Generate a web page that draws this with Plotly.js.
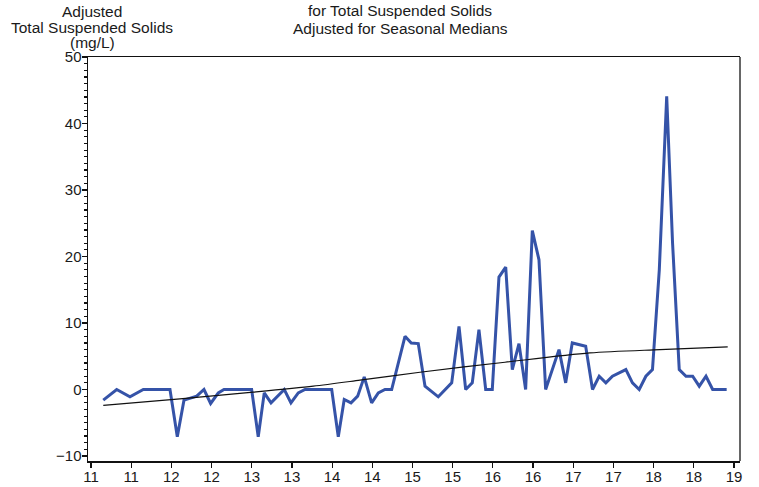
<!DOCTYPE html>
<html>
<head>
<meta charset="utf-8">
<script src="https://cdn.plot.ly/plotly-3.0.1.min.js"></script>
<style>html,body{margin:0;padding:0;background:#fff;}#chart{width:759px;height:487px;}</style>
</head>
<body>
<div id="chart"></div>
<script>
// Sample dates (decimal years, 2-digit) and seasonally adjusted TSS (mg/L)
const years = [11.153, 11.320, 11.485, 11.651, 11.983, 12.074, 12.157, 12.315, 12.406, 12.489,
  12.584, 12.655, 12.999, 13.081, 13.156, 13.240, 13.405, 13.488, 13.579, 13.663,
  13.995, 14.077, 14.151, 14.235, 14.318, 14.400, 14.492, 14.575, 14.658, 14.741,
  14.907, 14.985, 15.072, 15.156, 15.321, 15.488, 15.579, 15.662, 15.744, 15.827,
  15.911, 15.993, 16.076, 16.160, 16.242, 16.325, 16.408, 16.491, 16.574, 16.657,
  16.823, 16.906, 16.988, 17.155, 17.240, 17.323, 17.406, 17.488, 17.655, 17.737,
  17.821, 17.904, 17.986, 18.071, 18.163, 18.236, 18.319, 18.403, 18.486, 18.568,
  18.652, 18.735, 18.909];
const tssAdj = [-1.6, 0, -1.1, 0, 0, -7.1, -1.6, -1.0, 0, -2.1,
  -0.5, 0, 0, -7.1, -0.5, -2.0, 0, -2.0, -0.5, 0,
  0, -7.1, -1.5, -2.0, -1.0, 1.9, -2.0, -0.5, 0, 0,
  8.0, 7.0, 6.9, 0.5, -1.1, 1.0, 9.5, 0, 1.0, 9.0,
  0, 0, 16.9, 18.4, 3.0, 6.9, 0, 23.9, 19.5, 0,
  6.0, 1.0, 7.0, 6.5, 0, 2.0, 1.0, 2.0, 3.0, 1.0,
  0, 2.0, 3.0, 18.0, 44.1, 22.0, 3.0, 2.0, 2.0, 0.5,
  2.0, 0, 0];
// Trend line
const trendYears = [11.153, 12.107, 13.019, 13.766, 14.347, 15.093, 16.151, 17.208, 18.079, 18.922];
const trendVals = [-2.4, -1.4, -0.4, 0.5, 1.4, 2.6, 4.1, 5.5, 6.0, 6.4];
// Axis ticks
const tickVals = [11, 11.5, 12, 12.5, 13, 13.5, 14, 14.5, 15, 15.5, 16, 16.5, 17, 17.5, 18, 18.5, 19];
const tickLabels = ["11","11","12","12","13","13","14","14","15","15","16","16","17","17","18","18","19"];
const yTicks = [-10, 0, 10, 20, 30, 40, 50];
// Title lines
const yTitleLines = ["Adjusted", "Total Suspended Solids", "(mg/L)"];
const titleLines = ["for Total Suspended Solids", "Adjusted for Seasonal Medians"];

const font = "Liberation Sans, Arial, sans-serif";
const txt = '#1a1a1a';
const traces = [
  {x: years, y: tssAdj, type: 'scatter', mode: 'lines',
   line: {color: '#3553a8', width: 3}, hoverinfo: 'skip'},
  {x: trendYears, y: trendVals, type: 'scatter', mode: 'lines',
   line: {color: '#111', width: 1.2, shape: 'spline', smoothing: 0.8}, hoverinfo: 'skip'}
];
const W = 759, H = 487, mL = 88, mR = 19, mT = 57, mB = 26;
const pw = W - mL - mR, ph = H - mT - mB;
const px2x = p => (p - mL) / pw;
const py2y = p => (H - mB - p) / ph;
const annotations = [];
const yTitleY = [12, 28, 43];
yTitleLines.forEach((t, i) => annotations.push({
  xref: 'paper', yref: 'paper', x: px2x(92), y: py2y(yTitleY[i]),
  xanchor: 'center', yanchor: 'middle', showarrow: false, text: t,
  font: {family: font, size: 15.5, color: txt}}));
const titleY = [11, 29];
titleLines.forEach((t, i) => annotations.push({
  xref: 'paper', yref: 'paper', x: px2x(400), y: py2y(titleY[i]),
  xanchor: 'center', yanchor: 'middle', showarrow: false, text: t,
  font: {family: font, size: 15.5, color: txt}}));

const layout = {
  width: W, height: H,
  margin: {l: mL, r: mR, t: mT, b: mB},
  paper_bgcolor: '#fff', plot_bgcolor: '#fff',
  showlegend: false,
  font: {family: font, size: 15, color: txt},
  xaxis: {range: [10.963, 19.075], tickvals: tickVals, ticktext: tickLabels,
    showgrid: false, zeroline: false, showline: true, linecolor: '#111', linewidth: 1.5,
    mirror: true, ticks: 'outside', ticklen: 5, tickcolor: '#111', tickwidth: 1.2,
    ticklabelstandoff: -4,
    tickfont: {family: font, size: 15, color: txt}},
  yaxis: {range: [-10.75, 50], tickvals: yTicks,
    showgrid: false, zeroline: false, showline: true, linecolor: '#111', linewidth: 1.5,
    ticks: 'outside', ticklen: 5, tickcolor: '#111', tickwidth: 1.2,
    ticklabelstandoff: -3,
    minor: {dtick: 1, ticks: 'outside', ticklen: 3, tickcolor: '#111', showgrid: false},
    tickfont: {family: font, size: 15, color: txt}},
  shapes: [
    {type: 'line', xref: 'paper', yref: 'paper', x0: 1, x1: 1, y0: 0, y1: 1,
     line: {color: '#666', width: 2}}
  ],
  annotations: annotations
};
Plotly.newPlot('chart', traces, layout, {staticPlot: true, displayModeBar: false});
</script>
</body>
</html>
